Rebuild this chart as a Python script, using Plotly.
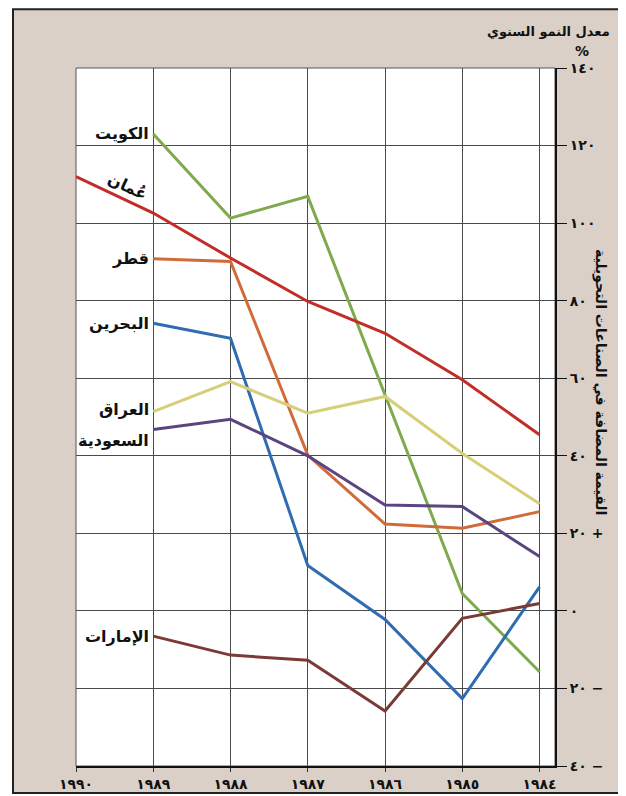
import plotly.graph_objects as go

years = [1990, 1989, 1988, 1987, 1986, 1985, 1984]
year_labels = ["١٩٩٠", "١٩٨٩", "١٩٨٨", "١٩٨٧", "١٩٨٦", "١٩٨٥", "١٩٨٤"]

y_ticks = [140, 120, 100, 80, 60, 40, 20, 0, -20, -40]
y_tick_labels = ["١٤٠", "١٢٠", "١٠٠", "٨٠", "٦٠", "٤٠", "٢٠ +", "٠", "٢٠ −", "٤٠ −"]

# series (x years, values in %)
kuwait_x = [1989, 1988, 1987, 1986, 1985, 1984]
kuwait = [123, 101.3, 106.9, 55.7, 4.5, -15.7]
oman_x = [1990, 1989, 1988, 1987, 1986, 1985, 1984]
oman = [112, 102.6, 91, 79.8, 71.6, 59.6, 45.4]
qatar_x = [1989, 1988, 1987, 1986, 1985, 1984]
qatar = [90.8, 90.1, 40.2, 22.4, 21.3, 25.6]
bahrain_x = [1989, 1988, 1987, 1986, 1985, 1984]
bahrain = [74.2, 70.3, 11.7, -2.2, -22.6, 6.2]
iraq_x = [1989, 1988, 1987, 1986, 1985, 1984]
iraq = [51.4, 59.1, 51, 55.3, 40.6, 27.6]
saudi_x = [1989, 1988, 1987, 1986, 1985, 1984]
saudi = [46.8, 49.4, 40, 27.3, 26.9, 14]
uae_x = [1989, 1988, 1987, 1986, 1985, 1984]
uae = [-6.5, -11.4, -12.7, -25.8, -1.9, 1.9]

series = [
    ("الكويت", kuwait_x, kuwait, "#7fa94c"),
    ("عُمان", oman_x, oman, "#c22d2a"),
    ("قطر", qatar_x, qatar, "#d06c3a"),
    ("البحرين", bahrain_x, bahrain, "#2f6db0"),
    ("العراق", iraq_x, iraq, "#d6cf78"),
    ("السعودية", saudi_x, saudi, "#5a4580"),
    ("الإمارات", uae_x, uae, "#7b3a36"),
]

fig = go.Figure()
for name, xs, ys, col in series:
    fig.add_trace(go.Scatter(x=xs, y=ys, mode="lines", name=name,
                             line=dict(color=col, width=3), showlegend=False))

FONT = "DejaVu Sans"
lab_font = dict(family=FONT, size=16, color="#111111")

# country labels at left
labels = [
    ("الكويت", 1989, 123),
    ("قطر", 1989, 91),
    ("البحرين", 1989, 74),
    ("العراق", 1989, 52),
    ("السعودية", 1989, 44),
    ("الإمارات", 1989, -6.5),
]
annotations = []
for txt, xv, yv in labels:
    annotations.append(dict(x=xv, y=yv, xref="x", yref="y", text="<b>%s</b>" % txt,
                            showarrow=False, xanchor="right", yanchor="middle",
                            xshift=-2, font=lab_font))
annotations.append(dict(x=1989.33, y=109.5, xref="x", yref="y", text="<b>عُمان</b>",
                        showarrow=False, textangle=25, xanchor="center", yanchor="middle",
                        font=lab_font))
annotations.append(dict(x=0.987, y=1.0516, xref="paper", yref="paper",
                        text="<b>معدل النمو السنوي</b>", showarrow=False,
                        xanchor="center", yanchor="middle",
                        font=dict(family=FONT, size=13, color="#111111")))
annotations.append(dict(x=1.056, y=1.0244, xref="paper", yref="paper",
                        text="<b>%</b>", showarrow=False, xanchor="center", yanchor="middle",
                        font=dict(family=FONT, size=14, color="#111111")))
annotations.append(dict(x=1.096, y=0.550, xref="paper", yref="paper",
                        text="<b>القيمة المضافة في الصناعات التحويلية</b>", showarrow=False,
                        xanchor="center", yanchor="middle",
                        textangle=90, font=dict(family=FONT, size=14, color="#111111")))

shapes = [
    # outer paper frame
    dict(type="rect", xref="paper", yref="paper", x0=-0.1315, x1=1.1357, y0=-0.0387, y1=1.084,
         fillcolor="#dad0c8", line=dict(color="#222222", width=2), layer="below"),
    # plot white area
    dict(type="rect", xref="paper", yref="paper", x0=0, x1=1, y0=0, y1=1,
         fillcolor="#ffffff", line=dict(color="#555555", width=1), layer="below"),
]

fig.update_layout(
    width=618, height=788,
    margin=dict(l=68, r=71, t=60, b=30, autoexpand=False),
    paper_bgcolor="#ffffff",
    plot_bgcolor="rgba(0,0,0,0)",
    annotations=annotations,
    shapes=shapes,
    xaxis=dict(range=[1990, 1983.8], tickvals=years,
               ticktext=["<b>%s</b>" % t for t in year_labels],
               showgrid=True, gridcolor="#4a4a4a", gridwidth=1,
               showline=True, linecolor="#111111", linewidth=2,
               ticks="outside", ticklen=4, tickcolor="#333333",
               tickfont=dict(family=FONT, size=14, color="#111111"),
               zeroline=False, fixedrange=True, automargin=False),
    yaxis=dict(range=[-40, 140], side="right", tickvals=y_ticks,
               ticktext=["<b>%s</b>" % t for t in y_tick_labels],
               showgrid=True, gridcolor="#4a4a4a", gridwidth=1,
               showline=True, linecolor="#111111", linewidth=2,
               ticks="outside", ticklen=10, tickcolor="#111111",
               tickfont=dict(family=FONT, size=14, color="#111111"),
               zeroline=False, fixedrange=True, automargin=False),
)

fig.write_html("out.html")
